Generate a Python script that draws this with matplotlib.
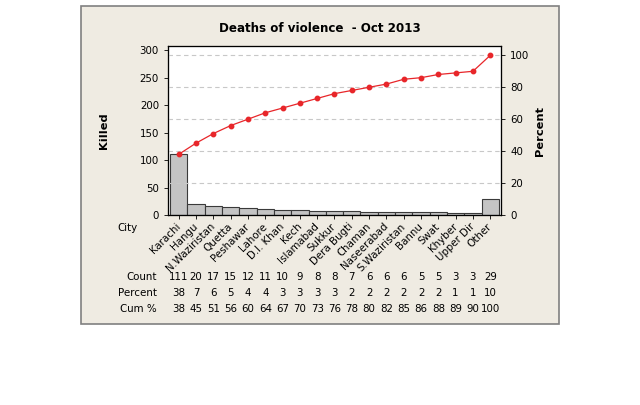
import matplotlib.pyplot as plt
from matplotlib.patches import Rectangle
import matplotlib.transforms as mtransforms

# data
cities = ["Karachi", "Hangu", "N.Waziristan", "Quetta", "Peshawar", "Lahore",
          "D.I. Khan", "Kech", "Islamabad", "Sukkur", "Dera Bugti", "Chaman",
          "Naseerabad", "S.Waziristan", "Bannu", "Swat", "Khyber", "Upper Dir", "Other"]
counts = [111, 20, 17, 15, 12, 11, 10, 9, 8, 8, 7, 6, 6, 6, 5, 5, 3, 3, 29]
percent = [38, 7, 6, 5, 4, 4, 3, 3, 3, 3, 2, 2, 2, 2, 2, 2, 1, 1, 10]
cum_pct = [38, 45, 51, 56, 60, 64, 67, 70, 73, 76, 78, 80, 82, 85, 86, 88, 89, 90, 100]

plt.rcParams["font.family"] = "DejaVu Sans"
fs = 7.4

fig = plt.figure(figsize=(6.4, 4.05), dpi=100)
fig.patch.set_facecolor("white")

# beige panel behind the chart
panel = Rectangle((81 / 640, 1 - 324 / 405), (559 - 81) / 640, (324 - 6) / 405,
                  transform=fig.transFigure, facecolor="#efebe2", edgecolor="#808080",
                  linewidth=1.2, zorder=-5)
fig.patches.append(panel)

ax = fig.add_axes([168 / 640, 1 - 215 / 405, (501 - 168) / 640, (215 - 46) / 405])
ax.set_facecolor("white")
total = sum(counts)
top = 308
x = list(range(len(cities)))

ax.bar(x, counts, width=1.0, color="#c4c4c4", edgecolor="#3a3a3a", linewidth=0.8, zorder=2)
ax.set_xlim(-0.62, len(cities) - 0.38)
ax.set_ylim(0, top)
ax.set_yticks([0, 50, 100, 150, 200, 250, 300])
ax.set_xticks(x)
ax.set_xticklabels(cities, rotation=45, ha="right", va="center", rotation_mode="anchor",
                   fontsize=fs)
ax.tick_params(axis="both", labelsize=fs, direction="out", length=3, width=0.6)
ax.tick_params(axis="x", pad=4)
ax.set_ylabel("Killed", fontsize=fs + 0.8, fontweight="bold", labelpad=22)
for s in ax.spines.values():
    s.set_linewidth(0.9)
    s.set_color("#303030")

ax2 = ax.twinx()
ax2.set_ylim(0, top / total * 100)
ax2.set_yticks([0, 20, 40, 60, 80, 100])
ax2.tick_params(axis="y", labelsize=fs, direction="out", length=3, width=0.6)
ax2.set_ylabel("Percent", fontsize=fs + 0.8, fontweight="bold", labelpad=4)
for g in [20, 40, 60, 80, 100]:
    ax2.axhline(g, color="#c8c8c8", linestyle=(0, (4, 3)), linewidth=0.8, zorder=0)
ax2.plot(x, cum_pct, color="#e8262a", linewidth=0.9, marker="o", markersize=3.2, zorder=4)

fig.text(0.5, 1 - 28 / 405, "Deaths of violence  - Oct 2013", ha="center", va="center",
         fontsize=8.6, fontweight="bold")
fig.text(128 / 640, 1 - 228 / 405, "City", ha="center", va="center", fontsize=fs)

# table below the chart
trans = mtransforms.blended_transform_factory(ax.transData, fig.transFigure)
rows = [("Count", counts, 277), ("Percent", percent, 293), ("Cum %", cum_pct, 309)]
for name, vals, ypix in rows:
    fig.text(157 / 640, 1 - ypix / 405, name, ha="right", va="center", fontsize=fs)
    for i, v in enumerate(vals):
        ax.text(i, 1 - ypix / 405, str(v), transform=trans, ha="center", va="center",
                fontsize=fs, clip_on=False)

fig.savefig("out.png", dpi=100, facecolor="white")
